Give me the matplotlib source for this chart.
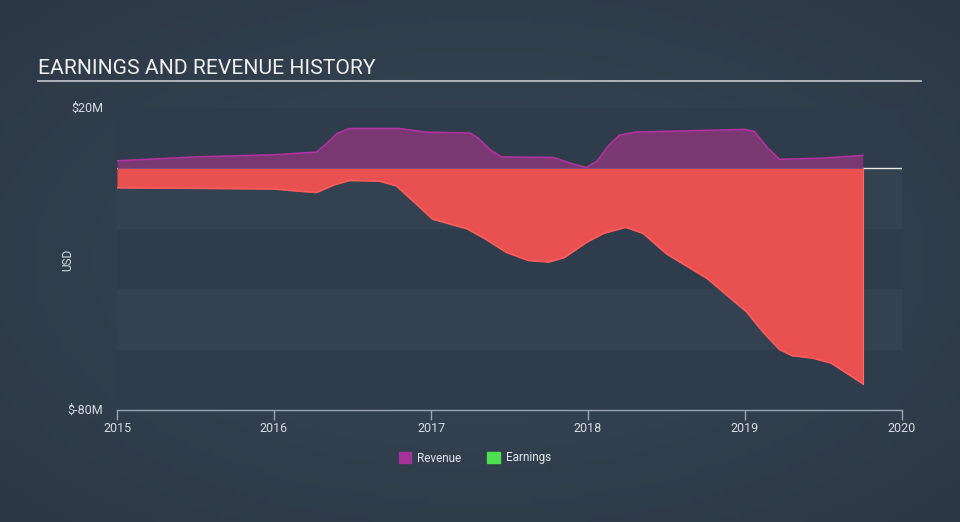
import numpy as np
import matplotlib
matplotlib.use("Agg")
import matplotlib.pyplot as plt
from matplotlib.patches import Patch

plt.rcParams['font.family'] = ['Roboto', 'DejaVu Sans']

# revenue, $M
rev_x = [2015.0, 2015.5, 2016.0, 2016.27, 2016.33, 2016.4, 2016.48, 2016.8, 2016.97, 2017.25,
         2017.3, 2017.38, 2017.45, 2017.78, 2017.9, 2017.99, 2018.06, 2018.13, 2018.2, 2018.3,
         2019.0, 2019.06, 2019.14, 2019.22, 2019.5, 2019.75]
rev_y = [2.5, 3.8, 4.5, 5.4, 8.0, 11.5, 13.2, 13.2, 12.0, 11.7, 10.0, 6.0, 3.8, 3.6, 1.5,
         0.3, 2.5, 7.5, 11.0, 12.0, 12.9, 12.2, 7.0, 3.0, 3.4, 4.3]

# earnings, $M
earn_x = [2015.0, 2016.0, 2016.15, 2016.27, 2016.38, 2016.48, 2016.67, 2016.78, 2016.9,
          2017.01, 2017.23, 2017.35, 2017.48, 2017.62, 2017.75, 2017.85, 2017.99, 2018.1,
          2018.24, 2018.35, 2018.5, 2018.76, 2019.01, 2019.12, 2019.22, 2019.3, 2019.43,
          2019.55, 2019.75]
earn_y = [-6.4, -6.8, -7.5, -8.0, -5.5, -4.0, -4.2, -5.8, -11.5, -16.8, -20.0, -23.5,
          -27.8, -30.5, -31.0, -29.5, -24.5, -21.5, -19.5, -21.5, -28.3, -36.5, -47.5,
          -54.5, -60.0, -62.0, -62.8, -64.5, -71.3]

years = [2015, 2016, 2017, 2018, 2019, 2020]

fig = plt.figure(figsize=(9.6, 5.22), dpi=100)
fig.patch.set_facecolor('#323f4e')

# soft radial glow in the background
bg = fig.add_axes([0, 0, 1, 1], zorder=-10)
gx, gy = np.meshgrid(np.linspace(-1, 1, 200), np.linspace(-1, 1, 110))
r = np.clip(np.sqrt(gx ** 2 + gy ** 2) / 1.4, 0, 1)
c0 = np.array([0x36, 0x47, 0x58]) / 255
c1 = np.array([0x2d, 0x38, 0x45]) / 255
img = c0[None, None, :] * (1 - r[..., None]) + c1[None, None, :] * r[..., None]
bg.imshow(img, aspect='auto', extent=[0, 1, 0, 1])
bg.axis('off')

ax = fig.add_axes([117 / 960, 1 - 410 / 522, 785 / 960, 302 / 522])
ax.set_facecolor('none')
ax.set_xlim(2015, 2020)
ax.set_ylim(-80, 20)

# alternating horizontal bands
for lo, col in [(0, '#2f3c4b'), (-20, '#334151'), (-40, '#2f3c4b'), (-60, '#334151'), (-80, '#2f3c4b')]:
    ax.axhspan(lo, lo + 20, color=col, zorder=0, lw=0)

ax.axhline(0, color='#e8e8e8', lw=1, zorder=1)

ax.fill_between(rev_x, 0, rev_y, color='#7a3872', lw=0, zorder=2)
ax.plot(rev_x, rev_y, color='#b2339f', lw=1.2, zorder=3)
ax.fill_between(earn_x, 0, earn_y, color='#e95151', lw=0, zorder=2)
ax.plot(earn_x, earn_y, color='#ff5c5c', lw=1.2, zorder=3)
ax.plot([earn_x[-1], earn_x[-1]], [earn_y[-1], 0], color='#ff6a6a', lw=0.8, zorder=3)

for s in ['top', 'right', 'left']:
    ax.spines[s].set_visible(False)
ax.spines['bottom'].set_color('#9aa6b3')
ax.spines['bottom'].set_linewidth(1)

ax.set_xticks(years)
ax.set_xticklabels([str(y) for y in years])
ax.tick_params(axis='x', colors='#9aa6b3', length=7, width=1, labelcolor='#d8dde2',
               labelsize=9, pad=2)
ax.set_yticks([])
ax.text(-0.018, 1.0, '$20M', transform=ax.transAxes, ha='right', va='center',
        color='#d8dde2', fontsize=9)
ax.text(-0.018, 0.0, '$-80M', transform=ax.transAxes, ha='right', va='center',
        color='#d8dde2', fontsize=9)
fig.text(68 / 960, 1 - 260 / 522, 'USD', rotation=90, ha='center', va='center',
         color='#d8dde2', fontsize=8.5)

# title with rule underneath
fig.text(38 / 960, 1 - 68 / 522, 'EARNINGS AND REVENUE HISTORY', ha='left', va='center',
         color='#f0f0f0', fontsize=15.2)
fig.add_artist(plt.Line2D([38 / 960, 921 / 960], [1 - 81 / 522, 1 - 81 / 522],
                          color='#c4c8cc', lw=1.2))

handles = [Patch(color='#a6339a', label='Revenue'), Patch(color='#4fe04f', label='Earnings')]
fig.legend(handles=handles, loc='center', bbox_to_anchor=(475 / 960, 1 - 458 / 522),
           ncol=2, frameon=False, fontsize=8.5, labelcolor='#e4e7ea',
           handlelength=1.1, handleheight=1.0, columnspacing=2.2, handletextpad=0.5)

fig.savefig('out.png', dpi=100, facecolor=fig.get_facecolor())
